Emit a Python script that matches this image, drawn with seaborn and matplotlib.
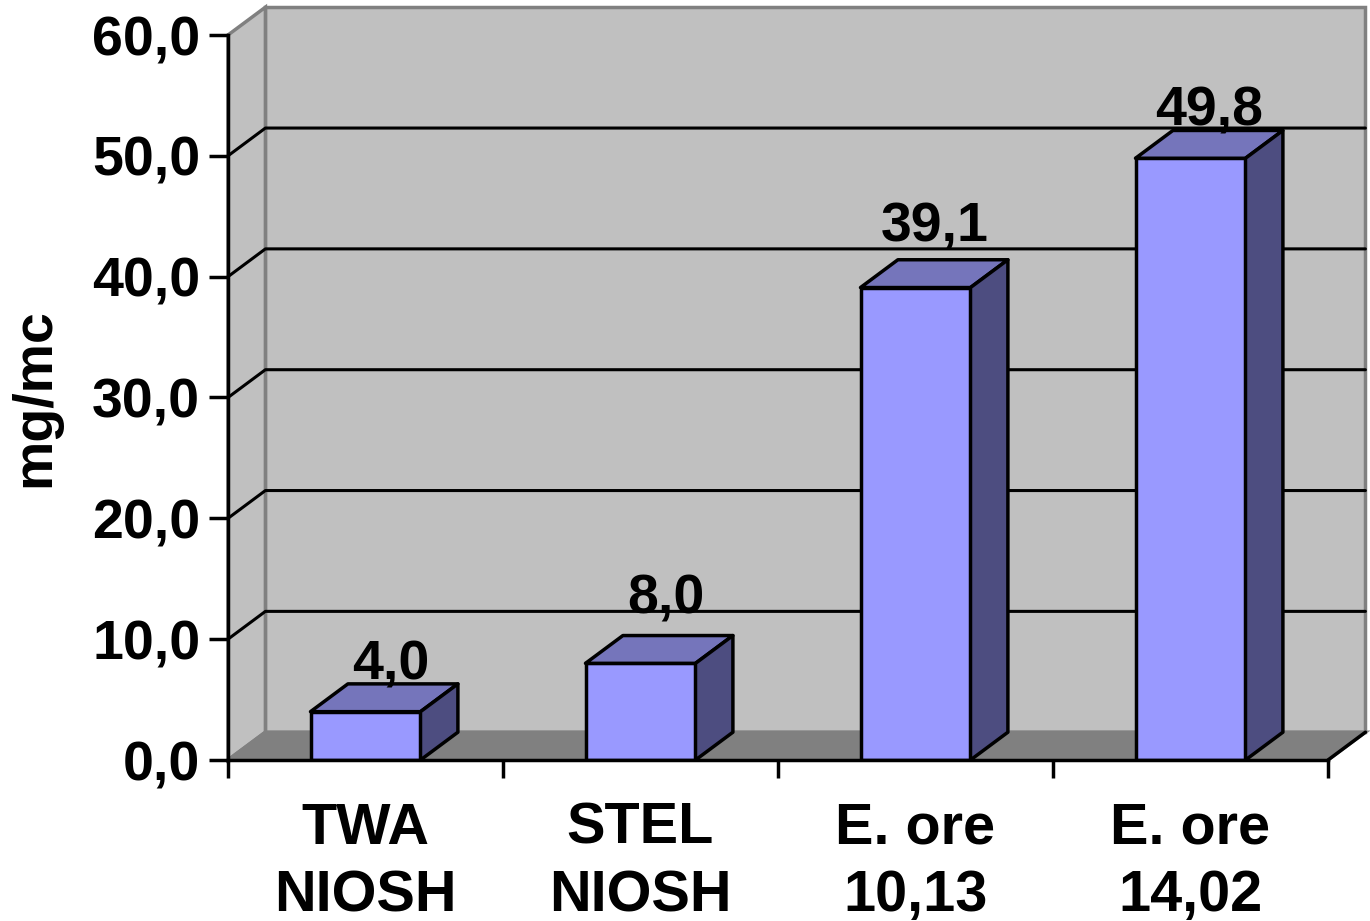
import matplotlib
matplotlib.use("Agg")
import matplotlib.pyplot as plt
from matplotlib.patches import Polygon
from matplotlib.ticker import FixedLocator
import seaborn as sns
import pandas as pd

# Data
categories = ["TWA\nNIOSH", "STEL\nNIOSH", "E. ore\n10,13", "E. ore\n14,02"]
values = [4.0, 8.0, 39.1, 49.8]
y_ticks = [0, 10, 20, 30, 40, 50, 60]
y_tick_labels = ["0,0", "10,0", "20,0", "30,0", "40,0", "50,0", "60,0"]

# fine nudges (points) for the value labels above each bar
label_nudges = [(4.5, 3.5), (4.5, 16), (0, 13), (0, 3.5)]

sns.set_theme(style="white")
plt.rcParams["font.family"] = ["Liberation Sans", "DejaVu Sans"]
plt.rcParams["font.weight"] = "bold"
plt.rcParams["text.color"] = "black"
plt.rcParams["axes.labelcolor"] = "black"
plt.rcParams["xtick.color"] = "black"
plt.rcParams["ytick.color"] = "black"

FRONT = "#9999FF"
TOP = "#7575BB"
SIDE = "#4D4D80"
WALL = "#C0C0C0"
FLOOR = "#808080"
EDGE = "#808080"

fig = plt.figure(figsize=(13.7, 9.21), dpi=100)
ax = fig.add_axes([228 / 1370, 161 / 921, 1100 / 1370, 725 / 921])
ax.set_facecolor("none")

x0, x1 = -0.5, 3.5
ymin, ymax = 0, 60
# depth offset of the 3D box (category units, value units)
dx, dy = 0.136, 2.3
bw = 0.4

# back wall
ax.add_patch(Polygon([(x0 + dx, dy), (x1 + dx, dy), (x1 + dx, ymax + dy), (x0 + dx, ymax + dy)],
                     closed=True, facecolor=WALL, edgecolor=EDGE, lw=2.5, zorder=0, clip_on=False))
# side wall
ax.add_patch(Polygon([(x0, 0), (x0 + dx, dy), (x0 + dx, ymax + dy), (x0, ymax)],
                     closed=True, facecolor=WALL, edgecolor=EDGE, lw=2.5, zorder=0, clip_on=False))
# floor
ax.add_patch(Polygon([(x0, 0), (x1, 0), (x1 + dx, dy), (x0 + dx, dy)],
                     closed=True, facecolor=FLOOR, edgecolor=EDGE, lw=2.5, zorder=0.5, clip_on=False))
ax.plot([x1, x1 + dx], [0, dy], color="black", lw=2.5, zorder=0.6, clip_on=False,
        solid_capstyle="round")

# gridlines on back and side walls
for t in y_ticks[1:-1]:
    ax.plot([x0, x0 + dx, x1 + dx], [t, t + dy, t + dy], color="black", lw=2.2,
            zorder=1, clip_on=False)

# front faces of the bars
df = pd.DataFrame({"cat": categories, "val": values})
sns.barplot(data=df, x="cat", y="val", color=FRONT, saturation=1, width=bw,
            edgecolor="black", linewidth=2.5, ax=ax, zorder=3)

# top and side faces, value labels
for i, v in enumerate(values):
    l, r = i - bw / 2, i + bw / 2
    ax.add_patch(Polygon([(l, v), (r, v), (r + dx, v + dy), (l + dx, v + dy)],
                         closed=True, facecolor=TOP, edgecolor="black", lw=2.5,
                         zorder=3, clip_on=False, joinstyle="round"))
    ax.add_patch(Polygon([(r, 0), (r + dx, dy), (r + dx, v + dy), (r, v)],
                         closed=True, facecolor=SIDE, edgecolor="black", lw=2.5,
                         zorder=3, clip_on=False, joinstyle="round"))
    ax.annotate(f"{v:.1f}".replace(".", ","), xy=(i + dx / 2, v + dy),
                xytext=label_nudges[i], textcoords="offset points",
                ha="center", va="baseline", fontsize=40, fontweight="bold",
                color="black", zorder=5, annotation_clip=False)

ax.set_xlim(x0, x1)
ax.set_ylim(ymin, ymax)

# axes, ticks and labels
for s in ["top", "right"]:
    ax.spines[s].set_visible(False)
for s in ["left", "bottom"]:
    ax.spines[s].set_color("black")
    ax.spines[s].set_linewidth(2.5)
    ax.spines[s].set_zorder(4)

ax.yaxis.set_major_locator(FixedLocator(y_ticks))
ax.set_yticklabels(y_tick_labels)
ax.tick_params(axis="y", which="major", direction="out", length=14, width=2.5,
               color="black", labelcolor="black", pad=6, labelsize=40, left=True)
ax.xaxis.set_minor_locator(FixedLocator([-0.5, 0.5, 1.5, 2.5, 3.5]))
ax.tick_params(axis="x", which="minor", direction="out", length=13, width=2.5,
               color="black", bottom=True)
ax.tick_params(axis="x", which="major", length=0, pad=30, labelsize=41.5,
               labelcolor="black")
for lab in ax.get_xticklabels():
    lab.set_fontweight("bold")
    lab.set_linespacing(1.32)
for lab in ax.get_yticklabels():
    lab.set_fontweight("bold")

ax.set_xlabel("")
ax.set_ylabel("mg/mc", fontsize=40, fontweight="bold", va="center", color="black")
ax.yaxis.set_label_coords(-0.1755, 0.5)
ax.grid(False)

fig.savefig("out.png", dpi=100, facecolor="white")
